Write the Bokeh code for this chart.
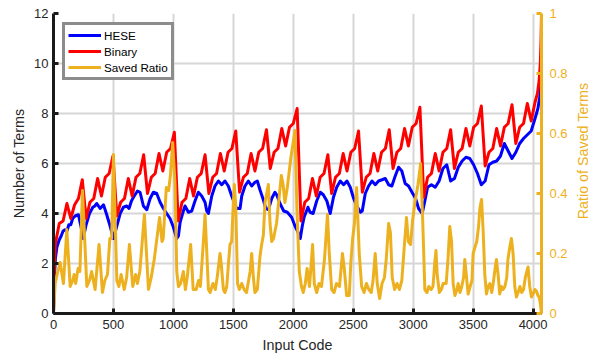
import math
from bokeh.plotting import figure
from bokeh.layouts import row
from bokeh.models import (Range1d, LinearAxis, FixedTicker, Legend, LegendItem,
                          PrintfTickFormatter)
from bokeh.core.properties import value
from bokeh.embed import file_html
from bokeh.resources import INLINE

# ---------------- data ----------------
x_ticks = [0, 500, 1000, 1500, 2000, 2500, 3000, 3500, 4000]
left_ticks = [0, 2, 4, 6, 8, 10, 12]
right_ticks = [0, 0.2, 0.4, 0.6, 0.8, 1]
series_names = ["HESE", "Binary", "Saved Ratio"]
right_title = ["Ratio of Saved Terms"]

binary_x = [0, 8, 16, 48, 80, 112, 144, 176, 208, 240, 272, 304, 336, 368, 400, 432, 464, 496,
            528, 560, 592, 624, 656, 688, 720, 752, 784, 816, 848, 880, 912, 944, 976, 1008,
            1040, 1072, 1104, 1136, 1168, 1200, 1232, 1264, 1296, 1328, 1360, 1392, 1424, 1456, 1488, 1520,
            1552, 1584, 1616, 1648, 1680, 1712, 1744, 1776, 1808, 1840, 1872, 1904, 1936, 1968, 2000, 2032,
            2064, 2096, 2128, 2160, 2192, 2224, 2256, 2288, 2320, 2352, 2384, 2416, 2448, 2480, 2512, 2544,
            2576, 2608, 2640, 2672, 2704, 2736, 2768, 2800, 2832, 2864, 2896, 2928, 2960, 2992, 3024, 3056,
            3088, 3120, 3152, 3184, 3216, 3248, 3280, 3312, 3344, 3376, 3408, 3440, 3472, 3504, 3536, 3568,
            3600, 3632, 3664, 3696, 3728, 3760, 3792, 3824, 3856, 3888, 3920, 3952, 3984, 4016,
            4036, 4050, 4060, 4066, 4070]
binary_y = [0.0, 1.9, 2.8, 3.6, 3.7, 4.4, 3.8, 4.35, 4.6, 5.35, 3.8, 4.45, 4.6, 5.4, 4.7, 5.45, 5.6, 6.3,
            3.9, 4.45, 4.6, 5.4, 4.7, 5.45, 5.6, 6.35, 4.8, 5.45, 5.6, 6.4, 5.7, 6.45, 6.6, 7.25,
            3.7, 4.45, 4.6, 5.4, 4.7, 5.45, 5.6, 6.35, 4.8, 5.45, 5.6, 6.4, 5.7, 6.45, 6.6, 7.3,
            4.85, 5.45, 5.6, 6.4, 5.7, 6.45, 6.6, 7.35, 5.8, 6.45, 6.6, 7.4, 6.7, 7.45, 7.6, 8.2,
            3.7, 4.45, 4.6, 5.4, 4.7, 5.45, 5.6, 6.35, 4.8, 5.45, 5.6, 6.4, 5.7, 6.45, 6.6, 7.3,
            4.85, 5.45, 5.6, 6.4, 5.7, 6.45, 6.6, 7.35, 5.8, 6.45, 6.6, 7.4, 6.7, 7.45, 7.6, 8.25,
            4.65, 5.45, 5.6, 6.4, 5.7, 6.45, 6.6, 7.35, 5.8, 6.45, 6.6, 7.4, 6.7, 7.45, 7.6, 8.3,
            5.9, 6.45, 6.6, 7.4, 6.7, 7.45, 7.6, 8.35, 6.8, 7.45, 7.6, 8.4, 7.7, 8.45,
            8.8, 9.3, 10.0, 10.9, 12.0]

hese_x = [0, 6, 16, 28, 48, 64, 80, 96, 112, 128, 144, 160, 180, 208, 228, 248, 272, 300, 328, 345,
          361, 389, 417, 444, 472, 500, 528, 556, 583, 611, 630, 650, 667, 700, 722, 750, 778, 806,
          833, 861, 889, 917, 944, 972, 1000, 1028,
          1042, 1056, 1083, 1097, 1125, 1153, 1180, 1208, 1236, 1264, 1278, 1292, 1320, 1347, 1375,
          1403, 1430, 1458, 1486, 1510, 1528, 1556, 1570, 1597, 1625, 1653, 1680, 1700, 1722, 1750,
          1770, 1792, 1820, 1847, 1861, 1889, 1920, 1950, 1986, 2014, 2035, 2058,
          2075, 2090, 2122, 2140, 2165, 2195, 2225, 2250, 2280, 2308, 2335, 2362, 2392, 2420, 2447,
          2475, 2503, 2530, 2560, 2575, 2600, 2628, 2656, 2684, 2711, 2740, 2767, 2795, 2822, 2850,
          2878, 2905, 2933, 2961, 2990, 3020, 3045, 3075,
          3097, 3120, 3152, 3184, 3216, 3248, 3280, 3312, 3344, 3376, 3408, 3440, 3472, 3504, 3536,
          3568, 3600, 3632, 3664, 3696, 3728, 3760, 3792, 3824, 3856, 3888, 3920, 3952, 3984, 4016,
          4040, 4055, 4070]
hese_y = [0.0, 1.3, 2.2, 2.65, 2.95, 3.1, 3.3, 3.35, 3.3, 3.55, 3.55, 3.8, 3.9, 3.95, 3.5, 3.0, 3.55, 4.0, 4.25, 4.3,
          4.4, 4.2, 4.35, 3.95, 3.5, 3.0, 3.5, 4.0, 4.25, 4.3, 4.2, 4.5, 4.65, 4.9, 4.85, 4.3, 4.15, 4.6,
          4.85, 4.8, 4.45, 4.2, 4.0, 3.8, 3.45, 3.0,
          3.1, 3.65, 4.1, 4.3, 4.05, 4.1, 4.5, 4.85, 4.7, 4.45, 4.1, 4.0, 4.7, 5.1, 5.3,
          5.15, 5.3, 5.1, 4.7, 4.4, 4.2, 4.2, 4.7, 5.1, 5.3, 5.1, 5.25, 5.3, 4.95, 4.55,
          4.2, 4.15, 4.6, 4.85, 4.75, 4.4, 4.1, 4.05, 3.85, 3.5, 3.3, 3.0,
          3.5, 3.85, 4.25, 4.05, 4.0, 4.5, 4.85, 4.75, 4.5, 4.0, 4.65, 5.05, 5.3, 5.15, 5.3,
          5.05, 4.6, 4.3, 4.05, 4.1, 4.8, 5.1, 5.3, 5.15, 5.3, 5.35, 5.4, 5.15, 5.1, 5.5,
          5.85, 5.7, 5.2, 5.1, 4.85, 4.6, 4.2, 4.0,
          4.5, 5.05, 5.15, 5.05, 5.3, 5.8, 5.95, 5.3, 5.4, 5.85, 6.1, 6.25, 6.2, 5.95, 5.6,
          5.15, 5.3, 5.95, 6.05, 6.1, 6.3, 6.8, 6.5, 6.2, 6.45, 6.8, 7.0, 7.15, 7.3, 7.8,
          8.2, 8.65, 9.5]

ratio_x = [0, 14, 30, 55, 83, 111, 139, 160, 172, 185, 205, 220, 242, 278, 300, 318, 347, 380, 408,
           428, 450, 470, 485, 500, 528, 545, 564, 590, 610, 633, 661, 685, 700, 720, 758, 792, 815,
           840, 872, 885, 905, 915, 941, 960, 975, 994, 1014,
           1028, 1042, 1060, 1083, 1100, 1115, 1144, 1165, 1190, 1210, 1225, 1250, 1264, 1280, 1292,
           1306, 1330, 1350, 1365, 1389, 1400, 1417, 1430, 1445, 1458, 1472, 1486, 1500, 1508, 1520,
           1535, 1550, 1570, 1590, 1610, 1640, 1653, 1667, 1680, 1700, 1722, 1736, 1750, 1764, 1792,
           1806, 1820, 1835, 1860, 1900, 1915, 1930, 1950, 1980, 2014, 2030,
           2050, 2068, 2083, 2100, 2115, 2135, 2161, 2175, 2195, 2215, 2235, 2260, 2285, 2300, 2320,
           2340, 2360, 2385, 2410, 2425, 2445, 2467, 2480, 2495, 2510, 2528, 2550, 2570, 2590, 2610,
           2630, 2650, 2665, 2683, 2700, 2720, 2740, 2760, 2775, 2795, 2810, 2825, 2845, 2865, 2885,
           2905, 2925, 2944, 2960, 2978, 2995, 3014, 3040, 3062, 3080,
           3097, 3115, 3130, 3150, 3165, 3180, 3190, 3200, 3218, 3235, 3250, 3275, 3290, 3305, 3320,
           3333, 3348, 3365, 3375, 3390, 3405, 3420, 3430, 3445, 3458, 3475, 3490, 3500, 3514, 3530,
           3545, 3556, 3570, 3583, 3597, 3611, 3625, 3640, 3655, 3667, 3680, 3694, 3708, 3722, 3736,
           3750, 3765, 3780, 3790, 3805, 3819, 3833, 3847, 3861, 3875, 3890, 3905, 3920, 3935, 3958,
           3972, 3986, 4000, 4015, 4028, 4040, 4050, 4058, 4064, 4070]
ratio_y = [0.0, 0.10, 0.13, 0.17, 0.10, 0.28, 0.09, 0.11, 0.13, 0.10, 0.15, 0.14, 0.41, 0.09, 0.11, 0.14, 0.08, 0.23, 0.07,
           0.11, 0.13, 0.25, 0.25, 0.53, 0.11, 0.09, 0.13, 0.08, 0.12, 0.23, 0.09, 0.13, 0.10, 0.14, 0.33, 0.08, 0.12,
           0.18, 0.28, 0.32, 0.24, 0.25, 0.42, 0.41, 0.46, 0.57, 0.43,
           0.14, 0.09, 0.10, 0.14, 0.08, 0.12, 0.23, 0.08, 0.08, 0.11, 0.09, 0.24, 0.33, 0.19, 0.08,
           0.07, 0.10, 0.08, 0.12, 0.20, 0.16, 0.08, 0.07, 0.09, 0.16, 0.23, 0.24, 0.37, 0.43, 0.36,
           0.10, 0.08, 0.10, 0.08, 0.07, 0.14, 0.20, 0.12, 0.07, 0.08, 0.19, 0.23, 0.26, 0.37, 0.43,
           0.30, 0.24, 0.25, 0.30, 0.46, 0.43, 0.37, 0.42, 0.52, 0.61, 0.35,
           0.14, 0.09, 0.07, 0.10, 0.15, 0.09, 0.23, 0.10, 0.07, 0.10, 0.09, 0.18, 0.33, 0.20, 0.08,
           0.07, 0.10, 0.09, 0.20, 0.15, 0.06, 0.06, 0.17, 0.25, 0.30, 0.42, 0.20, 0.09, 0.07, 0.10,
           0.08, 0.07, 0.11, 0.20, 0.10, 0.05, 0.10, 0.12, 0.18, 0.30, 0.27, 0.12, 0.08, 0.10, 0.08,
           0.11, 0.22, 0.32, 0.24, 0.23, 0.31, 0.37, 0.43, 0.50, 0.30,
           0.08, 0.07, 0.09, 0.08, 0.09, 0.17, 0.21, 0.13, 0.07, 0.08, 0.10, 0.10, 0.18, 0.29, 0.24,
           0.10, 0.06, 0.08, 0.10, 0.07, 0.09, 0.12, 0.18, 0.12, 0.065, 0.09, 0.11, 0.20, 0.22, 0.24,
           0.29, 0.35, 0.38, 0.28, 0.13, 0.065, 0.09, 0.10, 0.07, 0.10, 0.14, 0.18, 0.13, 0.065, 0.09,
           0.08, 0.09, 0.12, 0.18, 0.22, 0.25, 0.20, 0.09, 0.055, 0.07, 0.09, 0.07, 0.08, 0.12, 0.155,
           0.09, 0.055, 0.065, 0.08, 0.075, 0.06, 0.055, 0.04, 0.02, 0.0]

# ---------------- styling ----------------
FONT = "Liberation Sans"
DARK = "#262626"
ORANGE = "#EDB120"

p = figure(width=570, height=356,
           x_range=Range1d(0, 4070), y_range=Range1d(0, 12),
           output_backend="svg", toolbar_location=None,
           min_border_left=53, min_border_right=28, min_border_top=13, min_border_bottom=43)
p.outline_line_color = None
p.background_fill_color = "white"
p.border_fill_color = "white"

p.extra_y_ranges = {"ratio": Range1d(0, 1)}

# grid
p.xgrid.ticker = FixedTicker(ticks=x_ticks)
p.ygrid.ticker = FixedTicker(ticks=left_ticks)
for g in (p.xgrid, p.ygrid):
    g.grid_line_color = "#d6d6d6"
    g.grid_line_width = 2

# bottom axis
xa = p.xaxis[0]
xa.ticker = FixedTicker(ticks=x_ticks)
xa.axis_label = "Input Code"
# left axis
ya = p.yaxis[0]
ya.ticker = FixedTicker(ticks=left_ticks)
ya.axis_label = "Number of Terms"

for ax in (xa, ya):
    ax.axis_line_color = "#1a1a1a"
    ax.axis_line_width = 3
    ax.major_tick_line_color = "#1a1a1a"
    ax.major_tick_line_width = 3
    ax.major_tick_in = 5
    ax.major_tick_out = 0
    ax.minor_tick_line_color = None
    ax.major_label_text_font = FONT
    ax.major_label_text_font_size = "13px"
    ax.major_label_text_color = DARK
    ax.axis_label_text_font = FONT
    ax.axis_label_text_font_size = "14.3px"
    ax.axis_label_text_font_style = "normal"
    ax.axis_label_text_color = DARK

xa.major_label_standoff = 6
xa.axis_label_standoff = 5
ya.major_label_standoff = 5
ya.axis_label_standoff = 4

# right axis: ticks and tick labels
ra = LinearAxis(y_range_name="ratio", ticker=FixedTicker(ticks=right_ticks),
                formatter=PrintfTickFormatter(format="%g"))
ra.axis_line_color = ORANGE
ra.axis_line_width = 3
ra.major_tick_line_color = ORANGE
ra.major_tick_line_width = 3
ra.major_tick_in = 5
ra.major_tick_out = 0
ra.minor_tick_line_color = None
ra.major_label_text_font = FONT
ra.major_label_text_font_size = "13px"
ra.major_label_text_color = ORANGE
ra.major_label_standoff = 8
p.add_layout(ra, "right")

# lines
r_hese = p.line(hese_x, hese_y, line_color="#0000FF", line_width=3, line_join="round")
r_bin = p.line(binary_x, binary_y, line_color="#FF0000", line_width=3, line_join="round")
r_ratio = p.line(ratio_x, ratio_y, line_color=ORANGE, line_width=3, line_join="round",
                 y_range_name="ratio")

legend = Legend(items=[LegendItem(label=series_names[0], renderers=[r_hese]),
                       LegendItem(label=series_names[1], renderers=[r_bin]),
                       LegendItem(label=series_names[2], renderers=[r_ratio])],
                location="top_left")
legend.margin = 9
legend.padding = 3
legend.spacing = 2
legend.glyph_width = 33
legend.glyph_height = 14
legend.label_height = 14
legend.label_standoff = 3
legend.label_text_font = FONT
legend.label_text_font_size = "11.7px"
legend.label_text_color = "#000000"
legend.border_line_color = "#1a1a1a"
legend.border_line_width = 3
legend.background_fill_color = "white"
legend.background_fill_alpha = 1.0
p.add_layout(legend)

# narrow strip to the right that carries the right-axis title, reading bottom-to-top
t = figure(width=24, height=356, x_range=Range1d(0, 1), y_range=Range1d(0, 1),
           output_backend="svg", toolbar_location=None,
           min_border_left=0, min_border_right=0, min_border_top=0, min_border_bottom=0)
t.axis.visible = False
t.grid.visible = False
t.outline_line_color = None
t.background_fill_color = "white"
t.border_fill_color = "white"
t.text(x=[0.5], y=[0.542], text=right_title, angle=math.pi / 2,
       text_align="center", text_baseline="middle",
       text_font=value(FONT), text_font_size="14.3px", text_color=ORANGE)

layout = row(p, t, spacing=0)

open("out.html", "w").write(file_html(layout, INLINE))
